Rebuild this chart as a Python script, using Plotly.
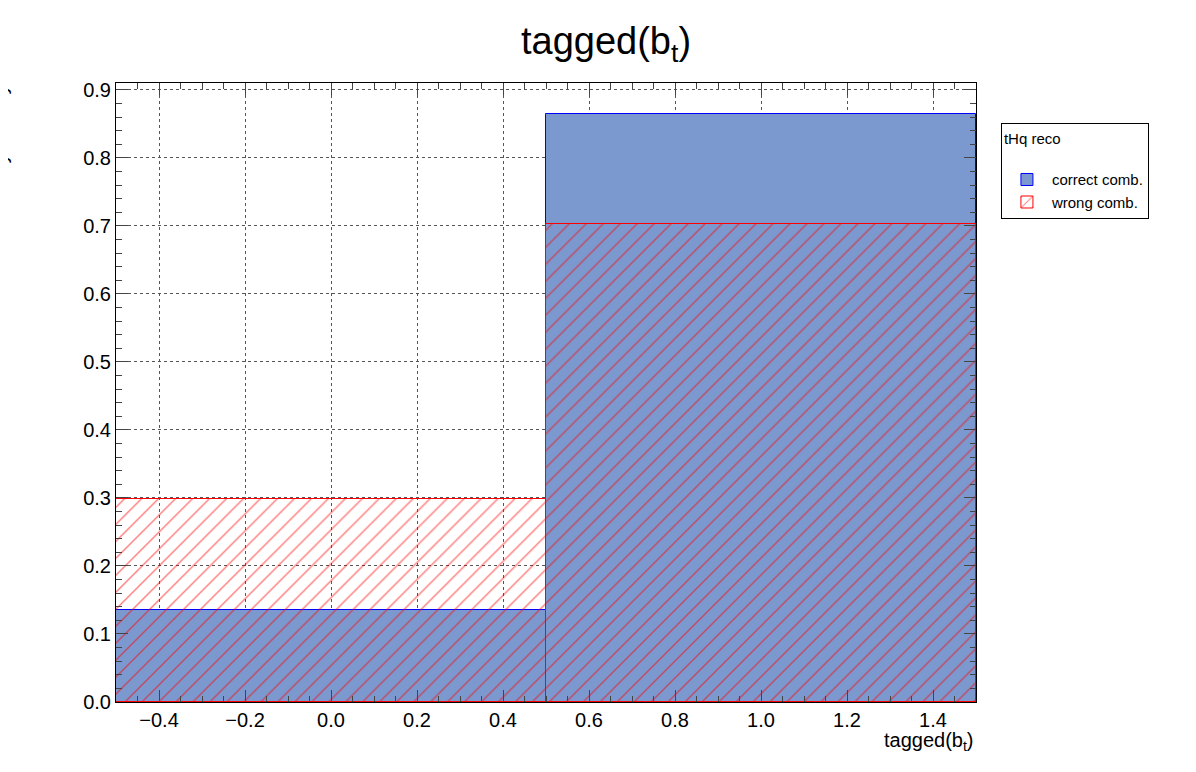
import plotly.graph_objects as go

bin_centers = [0.0, 1.0]
correct_comb = [0.135, 0.865]
wrong_comb = [0.298, 0.702]

fig = go.Figure()
fig.add_trace(go.Bar(
    x=bin_centers, y=correct_comb, width=1.0, name="correct comb.",
    marker=dict(color="#7b99cf", line=dict(color="blue", width=1)),
))
fig.add_trace(go.Bar(
    x=bin_centers, y=wrong_comb, width=1.0, name="wrong comb.",
    marker=dict(color="rgba(0,0,0,0)", line=dict(color="red", width=1),
                pattern=dict(shape="/", fgcolor="red", bgcolor="rgba(0,0,0,0)", size=12, solidity=0.12)),
))

axis_common = dict(
    showline=True, linecolor="black", linewidth=1, mirror="ticks", ticks="inside",
    showgrid=True, gridcolor="#555", griddash="dot", gridwidth=1,
    zeroline=False, tickfont=dict(size=20, color="black"), automargin=False,
    minor=dict(ticks="inside", ticklen=6, showgrid=False),
)

fig.update_layout(
    barmode="overlay", bargap=0,
    width=1196, height=772,
    margin=dict(l=108, r=228, t=75, b=78),
    paper_bgcolor="white", plot_bgcolor="white",
    font=dict(family="Liberation Sans, Arial", color="black"),
    title=dict(text="tagged(b<sub>t</sub>)", x=0.5, xanchor="center", y=0.975, font=dict(size=38),
               automargin=False),
    xaxis=dict(range=[-0.5, 1.5], dtick=0.2, tickformat=".1f", ticklen=12, **axis_common),
    yaxis=dict(range=[0, 0.91], dtick=0.1, tickformat=".1f", ticklen=12, **axis_common),
    legend=dict(
        title=dict(text="tHq reco<br> ", font=dict(size=15)),
        x=1.029, y=0.935, xanchor="left", yanchor="top",
        bordercolor="black", borderwidth=1, font=dict(size=15),
        itemwidth=40, tracegroupgap=14, entrywidth=140,
    ),
    annotations=[
        dict(text="tagged(b<sub>t</sub>)", xref="paper", yref="paper", x=1.0, y=-0.04,
             xanchor="right", yanchor="top", showarrow=False, font=dict(size=20)),
        dict(text="Probability density", xref="paper", yref="paper", x=-0.12, y=1.0,
             xanchor="right", yanchor="top", textangle=-90, showarrow=False, font=dict(size=20)),
    ],
)

fig.write_html("out.html")
